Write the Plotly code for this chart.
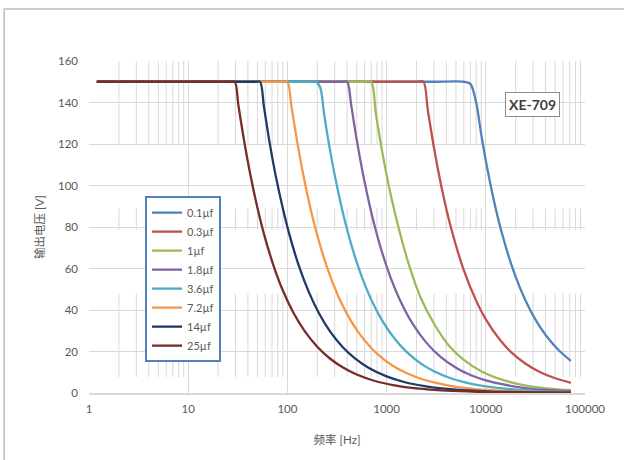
import plotly.graph_objects as go

# ---- data ----
series_names = ["0.1µf", "0.3µf", "1µf", "1.8µf", "3.6µf", "7.2µf", "14µf", "25µf"]
series_colors = ["#4F81BD", "#C0504D", "#9BBB59", "#8064A2", "#4BACC6", "#F79646", "#1F3B64", "#772C2A"]

freq_01 = [1.2, 100, 1000, 3000, 6000, 7000, 8000, 9000, 10000, 12000, 14500, 18000, 22000, 28000, 35000, 45000, 56000, 72000]
volt_01 = [150, 150, 150, 150, 150, 149, 140, 124.5, 112, 93.3, 77.2, 62.2, 50.9, 40, 32, 24.9, 20, 15.5]

freq_03 = [1.2, 100, 1000, 2000, 2350, 2600, 3000, 3600, 4500, 6000, 8000, 10000, 14000, 18000, 25000, 35000, 50000, 72000]
volt_03 = [150, 150, 150, 150, 150, 136.5, 118.3, 98.6, 78.9, 59.2, 44.4, 35.5, 25.4, 19.7, 14.2, 10.1, 7.1, 4.9]

freq_1 = [1.2, 100, 600, 700, 780, 900, 1100, 1365, 1700, 2200, 3000, 4300, 6000, 9000, 14000, 22000, 35000, 50000, 72000]
volt_1 = [150, 150, 150, 150, 134.6, 116.7, 95.5, 77, 61, 46, 33.5, 22.5, 16, 10.5, 6.7, 4.2, 2.6, 1.9, 1.4]

freq_18 = [1.2, 100, 350, 400, 440, 500, 600, 750, 900, 1100, 1400, 1800, 2500, 3500, 5000, 7000, 10000, 15000, 25000, 40000, 72000]
volt_18 = [150, 150, 150, 150, 138.6, 122, 101.7, 81.3, 67.8, 55.5, 43.6, 33.9, 24.4, 17.4, 12.2, 8.7, 6.1, 4.1, 2.4, 1.5, 0.85]

freq_36 = [1.2, 100, 170, 195, 215, 235, 260, 300, 360, 450, 550, 700, 900, 1200, 1600, 2200, 3000, 4500, 7000, 10000, 20000, 40000, 72000]
volt_36 = [150, 150, 150, 150, 147, 134, 121, 105, 87.5, 70, 57.3, 45, 35, 26.3, 19.7, 14.3, 10.5, 7, 4.5, 3.15, 1.6, 0.8, 0.44]

freq_72 = [1.2, 50, 88, 100, 110, 125, 145, 170, 200, 250, 320, 400, 520, 700, 950, 1300, 2000, 3000, 5000, 10000, 25000, 72000]
volt_72 = [150, 150, 150, 150, 138, 121.6, 104.8, 89.4, 76, 60.8, 47.5, 38, 29.2, 21.7, 16, 11.7, 7.6, 5.1, 3, 1.5, 0.6, 0.21]

freq_14 = [1.2, 30, 47, 53, 58, 66, 76, 90, 105, 130, 165, 210, 270, 360, 480, 650, 1000, 1500, 2500, 5000, 10000, 30000, 72000]
volt_14 = [150, 150, 150, 150, 138, 121, 105, 88.9, 76.2, 61.5, 48.5, 38.1, 29.6, 22.2, 16.7, 12.3, 8, 5.3, 3.2, 1.6, 0.8, 0.27, 0.11]

freq_25 = [1.2, 10, 26, 29.5, 32, 36, 42, 50, 58, 72, 90, 115, 150, 200, 270, 360, 500, 750, 1200, 2000, 4000, 10000, 30000, 72000]
volt_25 = [150, 150, 150, 150, 139, 123.6, 106, 89, 76.7, 61.8, 49.4, 38.7, 29.7, 22.3, 16.5, 12.4, 8.9, 5.9, 3.7, 2.2, 1.1, 0.45, 0.15, 0.06]

x_tick_vals = [1, 10, 100, 1000, 10000, 100000]
x_tick_text = ["1", "10", "100", "1000", "10000", "100000"]
y_tick_vals = [0, 20, 40, 60, 80, 100, 120, 140, 160]

# bands (in V) in which the minor vertical grid lines are visible in the reference
minor_bands = [(120, 160), (78.5, 89), (7.7, 48)]

series_freqs = [freq_01, freq_03, freq_1, freq_18, freq_36, freq_72, freq_14, freq_25]
series_volts = [volt_01, volt_03, volt_1, volt_18, volt_36, volt_72, volt_14, volt_25]

FONT = "Lato, 'Noto Sans CJK SC', sans-serif"
GRID = "#d9d9d9"
TXT = "#595959"

fig = go.Figure()
for name, col, fx, vy in zip(series_names, series_colors, series_freqs, series_volts):
    fig.add_trace(go.Scatter(
        x=fx, y=vy, name=name, mode="lines",
        line=dict(color=col, width=2.3, shape="spline", smoothing=0.8),
    ))

shapes = []
# minor vertical grid lines (segmented like the reference)
for d in x_tick_vals[:-1]:
    for k in range(2, 10):
        for (b0, b1) in minor_bands:
            shapes.append(dict(type="line", xref="x", yref="y", x0=k * d, x1=k * d,
                               y0=b0, y1=b1, line=dict(color=GRID, width=1), layer="below"))
# outer chart border
shapes.append(dict(type="rect", xref="paper", yref="paper",
                   x0=-0.171, x1=1.2, y0=-0.3, y1=1.1566,
                   line=dict(color="#bfbfbf", width=1.5), fillcolor="rgba(0,0,0,0)", layer="below"))

fig.update_layout(
    width=624, height=460, autosize=False,
    margin=dict(l=89, r=39, t=61, b=67),
    paper_bgcolor="white", plot_bgcolor="white",
    font=dict(family=FONT, size=11, color=TXT),
    showlegend=True,
    legend=dict(
        x=0.113, y=0.593, xanchor="left", yanchor="top",
        bgcolor="white", bordercolor="#4F81BD", borderwidth=2,
        font=dict(family=FONT, size=11, color=TXT),
        itemwidth=30, tracegroupgap=0,
    ),
    xaxis=dict(
        type="log", range=[0, 5],
        tickvals=x_tick_vals, ticktext=x_tick_text,
        showgrid=True, gridcolor=GRID, gridwidth=1.2,
        showline=True, linecolor=GRID, linewidth=1.5,
        ticks="", zeroline=False,
        tickfont=dict(family=FONT, size=11.5, color=TXT),
        ticklabelstandoff=4,
        title=dict(text="频率 [Hz]", font=dict(family=FONT, size=11.5, color=TXT), standoff=22),
    ),
    yaxis=dict(
        range=[0, 160], tickvals=y_tick_vals,
        showgrid=True, gridcolor=GRID, gridwidth=1.2,
        showline=False, zeroline=False, ticks="",
        tickfont=dict(family=FONT, size=11.5, color=TXT),
        ticklabelstandoff=10,
        title=dict(text="输出电压 [V]", font=dict(family=FONT, size=11.5, color=TXT), standoff=10),
    ),
    shapes=shapes,
    annotations=[dict(
        xref="paper", yref="paper", x=0.895, y=0.870,
        xanchor="center", yanchor="middle",
        text="<b>XE-709</b>", showarrow=False,
        font=dict(family=FONT, size=14, color="#404040"),
        bgcolor="white", bordercolor="#8c8c8c", borderwidth=1, borderpad=3,
    )],
)

fig.write_html("out.html", config={"displayModeBar": False},
               post_script="document.body.style.margin='0';")
